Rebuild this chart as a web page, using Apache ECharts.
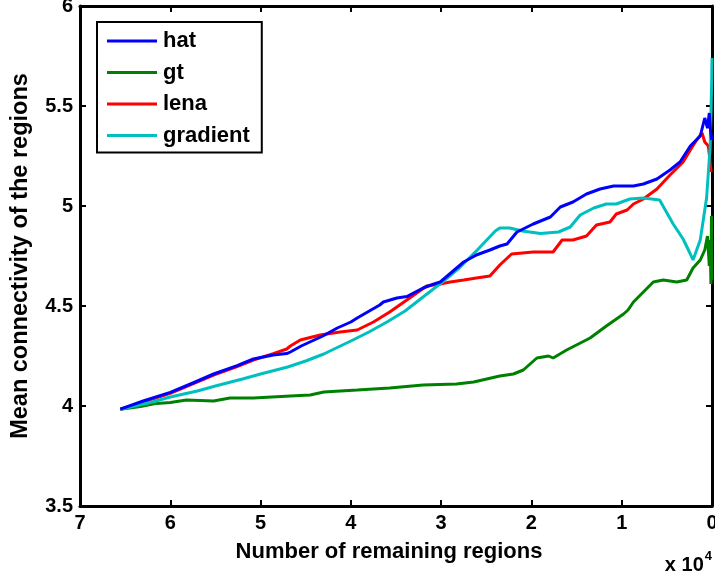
<!DOCTYPE html>
<html>
<head>
<meta charset="utf-8">
<script src="https://cdn.jsdelivr.net/npm/echarts@6/dist/echarts.min.js"></script>
<style>
html,body{margin:0;padding:0;background:#fff;overflow:hidden;}
#chart{width:715px;height:578px;}
</style>
</head>
<body>
<div id="chart"></div>
<script>
// x values: number of remaining regions; y values: mean connectivity
const seriesNames = ['hat', 'gt', 'lena', 'gradient'];
const xTickLabels = ['0', '1', '2', '3', '4', '5', '6', '7'];
const yTickLabels = ['3.5', '4', '4.5', '5', '5.5', '6'];

const hat = [[65536,3.984],[63000,4.025],[60000,4.068],[57500,4.115],[55200,4.16],[52600,4.202],[50800,4.235],[48600,4.255],[47100,4.262],[46700,4.27],[45500,4.30],[43100,4.35],[41500,4.39],[40000,4.42],[39300,4.44],[36800,4.505],[36400,4.52],[34900,4.54],[33800,4.547],[32000,4.59],[30800,4.61],[30100,4.62],[28800,4.67],[27500,4.72],[26100,4.755],[24600,4.78],[23500,4.80],[22700,4.81],[21600,4.87],[19800,4.91],[17900,4.945],[16800,4.995],[15400,5.02],[13900,5.06],[12400,5.085],[10900,5.10],[8700,5.10],[7600,5.11],[6100,5.135],[4650,5.18],[3540,5.22],[2400,5.30],[1300,5.35],[800,5.44],[500,5.39],[300,5.465],[150,5.37],[30,5.33]];

const gt = [[65536,3.984],[63300,3.997],[61500,4.013],[60000,4.017],[58200,4.03],[55200,4.025],[53400,4.04],[50800,4.04],[46700,4.05],[44500,4.055],[43000,4.07],[39300,4.08],[35700,4.09],[32000,4.105],[28300,4.11],[26400,4.12],[23500,4.15],[22000,4.16],[20900,4.18],[19400,4.24],[18100,4.25],[17600,4.24],[16100,4.28],[13500,4.34],[11700,4.40],[9800,4.46],[9300,4.48],[8700,4.52],[6500,4.62],[5400,4.63],[3900,4.62],[2800,4.63],[2100,4.69],[1300,4.73],[800,4.78],[500,4.85],[300,4.70],[200,4.83],[120,4.61],[60,4.95],[20,4.63]];

const lena = [[65536,3.984],[60000,4.063],[55200,4.155],[52600,4.197],[50800,4.23],[48600,4.262],[47100,4.285],[46700,4.30],[45600,4.33],[43400,4.355],[41200,4.37],[39300,4.38],[37500,4.42],[35700,4.47],[33800,4.53],[31600,4.60],[30100,4.61],[29000,4.62],[27500,4.63],[26100,4.64],[24600,4.65],[23500,4.705],[22200,4.76],[19800,4.77],[17600,4.77],[16600,4.83],[15400,4.83],[13900,4.85],[12800,4.905],[11300,4.92],[10600,4.96],[9400,4.98],[8700,5.01],[7600,5.035],[6100,5.085],[4650,5.155],[3200,5.22],[2400,5.28],[1700,5.33],[1100,5.365],[800,5.32],[400,5.30],[100,5.17]];

const gradient = [[65536,3.984],[62000,4.02],[60000,4.045],[57000,4.075],[55000,4.10],[52000,4.135],[50000,4.16],[47000,4.195],[45000,4.225],[43000,4.26],[40000,4.325],[38000,4.37],[36000,4.42],[34000,4.475],[32000,4.545],[30000,4.615],[28000,4.69],[26000,4.78],[24000,4.875],[23500,4.89],[22400,4.89],[21000,4.875],[19000,4.862],[17000,4.87],[15700,4.895],[14600,4.955],[13100,4.99],[11700,5.01],[10600,5.01],[9100,5.035],[7600,5.04],[5800,5.03],[4300,4.91],[3200,4.835],[2400,4.76],[2100,4.73],[1300,4.83],[600,5.04],[200,5.30],[30,5.63],[0,5.74]];

const colors = ['#0000ff', '#008000', '#ff0000', '#00bfbf'];
const dataSets = [hat, gt, lena, gradient];

const FONT = 'Liberation Sans';
const chart = echarts.init(document.getElementById('chart'));

const axisCommon = {
  axisLine: { show: true, onZero: false, lineStyle: { color: '#000', width: 3 } },
  axisTick: { show: true, inside: true, length: 6, lineStyle: { color: '#000', width: 2 } },
  splitLine: { show: false }
};

chart.setOption({
  animation: false,
  backgroundColor: '#fff',
  grid: { left: 80, right: 3, top: 6, bottom: 72, containLabel: false, outerBoundsMode: 'none' },
  legend: {
    data: seriesNames,
    orient: 'vertical',
    left: 97,
    top: 22,
    padding: [8, 12, 6, 10],
    itemWidth: 50,
    itemHeight: 14,
    itemGap: 9.5,
    icon: 'path://M0,6 L50,6 L50,9 L0,9 Z',
    borderColor: '#000',
    borderWidth: 2,
    backgroundColor: '#fff',
    textStyle: { fontFamily: FONT, fontWeight: 'bold', fontSize: 22, color: '#000', padding: [0, 0, 0, 1] }
  },
  xAxis: [
    Object.assign({}, axisCommon, {
      type: 'value', min: 0, max: 70000, interval: 10000, inverse: true,
      position: 'bottom',
      name: 'Number of remaining regions',
      nameLocation: 'middle', nameGap: 35,
      nameTextStyle: { fontFamily: FONT, fontWeight: 'bold', fontSize: 22, color: '#000', padding: [0, 14, 0, 0] },
      axisLabel: {
        margin: 7, color: '#000', fontFamily: FONT, fontWeight: 'bold', fontSize: 20,
        formatter: v => xTickLabels[Math.round(v / 10000)]
      }
    }),
    Object.assign({}, axisCommon, {
      type: 'value', min: 0, max: 70000, interval: 10000, inverse: true,
      position: 'top', axisLabel: { show: false }
    })
  ],
  yAxis: [
    Object.assign({}, axisCommon, {
      type: 'value', min: 3.5, max: 6, interval: 0.5,
      position: 'left',
      name: 'Mean connectivity of the regions',
      nameLocation: 'middle', nameGap: 47,
      nameTextStyle: { fontFamily: FONT, fontWeight: 'bold', fontSize: 23.5, color: '#000' },
      axisLabel: {
        margin: 7, color: '#000', fontFamily: FONT, fontWeight: 'bold', fontSize: 20,
        formatter: v => yTickLabels[Math.round((v - 3.5) / 0.5)]
      }
    }),
    Object.assign({}, axisCommon, {
      type: 'value', min: 3.5, max: 6, interval: 0.5,
      position: 'right', axisLabel: { show: false }
    })
  ],
  series: seriesNames.map((n, i) => ({
    name: n,
    type: 'line',
    xAxisIndex: 0,
    yAxisIndex: 0,
    data: dataSets[i],
    showSymbol: false,
    symbol: 'none',
    lineStyle: { color: colors[i], width: 3 },
    itemStyle: { color: colors[i] },
    z: 2 + (i === 0 ? 1 : 0)
  })),
  graphic: [{
    type: 'text',
    right: 3,
    top: 550,
    style: {
      text: '{a|x 10}{b|4}',
      rich: {
        a: { fontFamily: FONT, fontWeight: 'bold', fontSize: 20, fill: '#000', verticalAlign: 'bottom' },
        b: { fontFamily: FONT, fontWeight: 'bold', fontSize: 13, fill: '#000', verticalAlign: 'top', padding: [0, 0, 12, 1] }
      }
    }
  }]
});
</script>
</body>
</html>
